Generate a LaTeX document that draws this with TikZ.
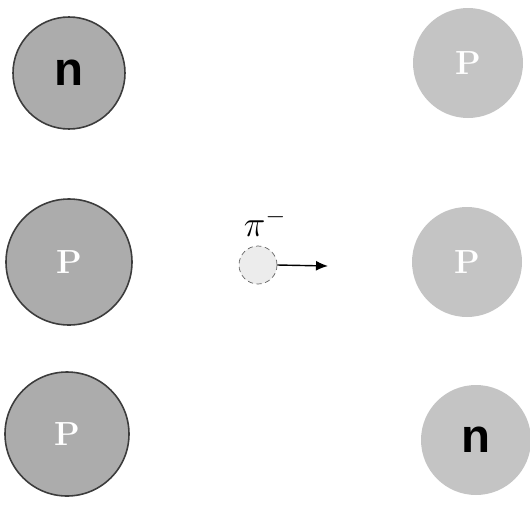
\documentclass[tikz,border=0pt]{standalone}
\usepackage{fontspec}
\usetikzlibrary{arrows.meta}
\newfontfamily\labelfont{Liberation Sans}
\definecolor{coregray}{RGB}{172,172,172}
\definecolor{farsgray}{RGB}{196,196,196}
\definecolor{rimgray}{RGB}{60,60,60}
\definecolor{piongray}{RGB}{236,236,236}
\tikzset{
  >={Latex[length=2.4mm,width=2mm]},
  nucleon/.style={circle,fill=#1,inner sep=0pt},
  nucleon/.default=coregray,
  before/.style={nucleon=coregray,draw=rimgray,line width=0.9pt},
  after/.style={nucleon=farsgray},
  proton/.style={text=white,font=\bfseries\fontsize{19}{19}\selectfont},
  neutron/.style={text=black,font=\labelfont\bfseries\fontsize{27}{27}\selectfont},
  pion/.style={circle,fill=piongray,draw=rimgray!80,densely dashed,inner sep=0pt,minimum size=7.6mm},
}

\begin{document}
\begin{tikzpicture}
  \useasboundingbox (0,0) rectangle (10.6,10.12);
  % nucleus before the emission
  \node[before,neutron,minimum size=22.4mm] (nA) at (1.38,8.66) {n};
  \node[before,proton,minimum size=25.2mm] (pA) at (1.38,4.88) {P};
  \node[before,proton,minimum size=24.8mm] (pB) at (1.34,1.44) {P};
  % nucleus after
  \node[after,proton,minimum size=22mm] (pC) at (9.36,8.86) {P};
  \node[after,proton,minimum size=22mm] (pD) at (9.34,4.88) {P};
  \node[after,neutron,minimum size=22mm] (nB) at (9.52,1.32) {n};
  % the pion
  \node[pion] (pi) at (5.16,4.82) {};
  \node[font=\fontsize{22}{22}\selectfont] (pilabel) at (5.3,5.66) {$\pi^-$};
  \coordinate (piend) at (6.56,4.80);
  \draw[->,thick] (pi.east) -- (piend);
\end{tikzpicture}
\end{document}
